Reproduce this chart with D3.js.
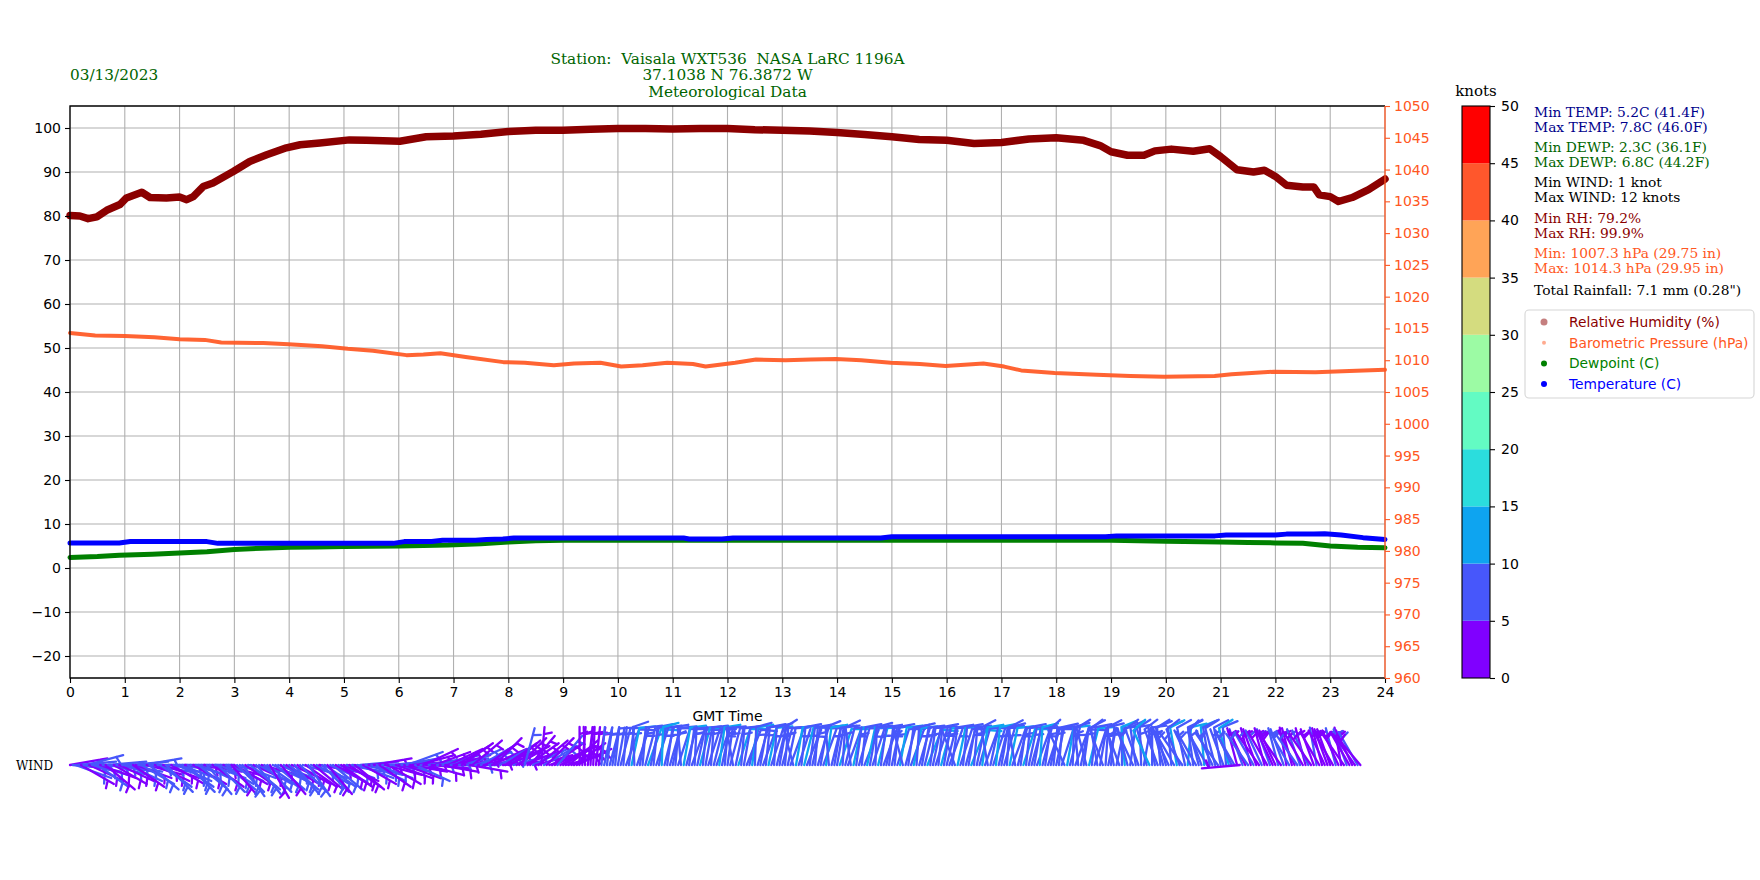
<!DOCTYPE html>
<html>
<head>
<meta charset="utf-8">
<script src="https://cdnjs.cloudflare.com/ajax/libs/d3/7.8.5/d3.min.js"></script>
<style>
  body { margin: 0; background: #ffffff; }
  text { font-family: "DejaVu Sans", sans-serif; }
  .serif { font-family: "DejaVu Serif", serif; white-space: pre; }
</style>
</head>
<body>
<div id="chart"></div>
<script>

// ---- data ----

var rhTime = [0, 0.18, 0.33, 0.49, 0.67, 0.91, 1.03, 1.31, 1.46, 1.76, 2.0, 2.13, 2.25, 2.43, 2.61, 2.98,
    3.28, 3.59, 3.95, 4.2, 4.56, 5.1, 5.41, 6.02, 6.5, 7.0, 7.5, 8.0, 8.5, 9.0, 9.5, 10.0, 10.5, 11.0,
    11.5, 12.0, 12.5, 13.0, 13.5, 14.0, 14.5, 15.0, 15.5, 16.0, 16.5, 17.0, 17.5, 18.0, 18.5, 18.8,
    19.0, 19.3, 19.6, 19.8, 20.1, 20.5, 20.8, 21.0, 21.3, 21.6, 21.8, 22.0, 22.2, 22.5, 22.7, 22.8,
    23.0, 23.15, 23.4, 23.7, 24.0];
var rhVal = [80.1, 80.0, 79.4, 79.8, 81.3, 82.6, 84.1, 85.4, 84.2, 84.1, 84.3, 83.7, 84.4, 86.7, 87.5, 90.1,
    92.4, 93.9, 95.5, 96.2, 96.6, 97.3, 97.2, 97.0, 98.0, 98.2, 98.6, 99.2, 99.5, 99.5, 99.7, 99.9, 99.9, 99.8,
    99.9, 99.9, 99.6, 99.5, 99.3, 99.0, 98.5, 98.0, 97.4, 97.2, 96.5, 96.7, 97.5, 97.8, 97.2, 96.0,
    94.6, 93.8, 93.8, 94.8, 95.2, 94.7, 95.3, 93.5, 90.5, 90.0, 90.4, 89.0, 87.0, 86.6, 86.6, 84.8,
    84.4, 83.3, 84.2, 86.0, 88.4];

var presTime = [0, 0.46, 1.0, 1.54, 2.0, 2.46, 2.76, 3.53, 3.99, 4.6, 5.07, 5.53, 6.14, 6.45, 6.76, 7.22,
    7.91, 8.3, 8.83, 9.2, 9.68, 10.06, 10.45, 10.9, 11.37, 11.6, 12.14, 12.52, 13.06, 13.52, 13.98,
    14.44, 14.98, 15.51, 15.98, 16.67, 17.05, 17.36, 17.97, 18.74, 19.35, 19.97, 20.89, 21.2, 21.97,
    22.73, 23.35, 24.0];
var presVal = [1014.3, 1013.9, 1013.8, 1013.6, 1013.3, 1013.2, 1012.8, 1012.7, 1012.5, 1012.2, 1011.8, 1011.5,
    1010.8, 1010.9, 1011.1, 1010.5, 1009.7, 1009.6, 1009.2, 1009.5, 1009.6, 1009.0, 1009.2, 1009.6, 1009.4,
    1009.0, 1009.6, 1010.1, 1010.0, 1010.1, 1010.2, 1010.0, 1009.6, 1009.4, 1009.1, 1009.5, 1009.0, 1008.4,
    1008.0, 1007.7, 1007.5, 1007.4, 1007.5, 1007.8, 1008.2, 1008.1, 1008.3, 1008.5];

var tempTime = [0, 0.9, 1.1, 2.5, 2.7, 5.9, 6.1, 6.6, 6.8, 7.4, 7.6, 7.9, 8.1, 11.2, 11.3, 11.9, 12.1,
    14.8, 15.0, 18.9, 19.1, 20.9, 21.1, 22.0, 22.2, 22.7, 22.9, 23.2, 23.6, 24.0];
var tempVal = [5.7, 5.7, 6.0, 6.0, 5.6, 5.6, 6.0, 6.0, 6.3, 6.3, 6.5, 6.6, 6.8, 6.8, 6.6, 6.6, 6.8,
    6.8, 7.1, 7.1, 7.3, 7.3, 7.5, 7.5, 7.7, 7.7, 7.8, 7.5, 6.9, 6.5];

var dewTime = [0, 0.5, 0.9, 1.5, 2.0, 2.5, 3.0, 3.5, 4.0, 4.5, 5.0, 6.0, 6.9, 7.5, 8.0, 8.5, 9.0, 12.0,
    15.0, 19.0, 20.0, 21.0, 21.5, 22.0, 22.5, 23.0, 23.5, 24.0];
var dewVal = [2.4, 2.6, 2.9, 3.1, 3.4, 3.7, 4.2, 4.5, 4.7, 4.8, 4.9, 5.0, 5.2, 5.5, 5.9, 6.2, 6.3, 6.3,
    6.3, 6.3, 6.1, 5.9, 5.8, 5.7, 5.6, 5.0, 4.7, 4.6];

// wind readings every 3 minutes, one row per hour (knots, degrees wind comes from)
var windStep = 3 / 60;
var windSpd = [
    [4, 6, 5, 7, 3, 6, 5, 4, 7, 6, 5, 3, 6, 4, 5, 7, 4, 6, 3, 5],
    [5, 7, 6, 4, 3, 6, 7, 5, 4, 6, 5, 3, 7, 6, 4, 5, 6, 3, 5, 7],
    [6, 5, 3, 7, 6, 4, 5, 7, 6, 3, 5, 6, 4, 7, 5, 6, 3, 5, 7, 4],
    [4, 6, 7, 5, 3, 6, 5, 4, 7, 6, 3, 5, 6, 4, 7, 5, 6, 3, 5, 4],
    [5, 3, 6, 4, 7, 5, 3, 6, 5, 4, 6, 3, 5, 7, 4, 6, 5, 3, 6, 4],
    [4, 6, 3, 5, 4, 7, 5, 3, 6, 4, 5, 3, 6, 4, 5, 3, 4, 6, 5, 3],
    [3, 5, 4, 6, 3, 4, 5, 3, 6, 4, 3, 5, 4, 3, 5, 4, 6, 3, 4, 5],
    [4, 3, 5, 3, 4, 6, 3, 4, 5, 3, 6, 4, 3, 5, 4, 3, 4, 5, 3, 4],
    [3, 4, 5, 3, 4, 3, 5, 4, 3, 5, 4, 3, 4, 5, 3, 4, 3, 4, 5, 3],
    [3, 4, 3, 4, 3, 4, 3, 4, 3, 3, 4, 3, 4, 3, 6, 7, 6, 8, 7, 6],
    [7, 8, 6, 9, 7, 10, 8, 6, 9, 7, 8, 11, 7, 9, 6, 8, 10, 7, 9, 8],
    [8, 6, 9, 7, 11, 8, 7, 9, 6, 8, 10, 7, 9, 8, 6, 9, 7, 10, 8, 6],
    [7, 9, 6, 8, 10, 7, 9, 8, 6, 11, 8, 7, 9, 6, 8, 10, 7, 9, 8, 7],
    [9, 7, 8, 6, 9, 11, 7, 8, 10, 6, 9, 8, 7, 9, 8, 6, 10, 8, 7, 9],
    [8, 10, 7, 9, 6, 8, 12, 7, 9, 8, 6, 10, 8, 7, 9, 11, 8, 6, 9, 7],
    [7, 9, 8, 11, 6, 8, 9, 7, 10, 8, 6, 9, 8, 10, 7, 9, 6, 8, 11, 7],
    [8, 6, 9, 7, 10, 8, 9, 6, 8, 11, 7, 9, 8, 10, 6, 8, 9, 7, 10, 8],
    [9, 7, 8, 10, 6, 8, 9, 7, 11, 8, 6, 9, 8, 7, 10, 9, 6, 8, 9, 7],
    [8, 9, 6, 8, 10, 7, 9, 8, 6, 9, 7, 8, 10, 8, 6, 9, 7, 8, 9, 6],
    [7, 9, 8, 6, 9, 10, 7, 8, 6, 9, 8, 7, 9, 8, 10, 7, 6, 9, 8, 7],
    [8, 6, 9, 7, 10, 8, 6, 9, 11, 7, 8, 6, 9, 7, 10, 8, 9, 7, 8, 6],
    [9, 7, 8, 10, 6, 5, 4, 3, 5, 3, 5, 4, 6, 4, 3, 5, 4, 3, 5, 4],
    [4, 5, 3, 6, 4, 5, 3, 4, 6, 5, 3, 4, 5, 3, 4, 5, 3, 4, 3, 4],
    [4, 3, 5, 4, 3, 4, 5, 3, 4, 3, 5, 3]
];
var windDir = [
    [80, 95, 110, 85, 120, 100, 75, 115, 105, 90, 125, 110, 95, 130, 85, 105, 120, 100, 115, 90],
    [100, 115, 85, 125, 110, 95, 120, 80, 105, 130, 100, 115, 90, 125, 110, 135, 95, 120, 105, 115],
    [110, 125, 95, 135, 105, 120, 90, 130, 115, 100, 140, 110, 125, 95, 135, 120, 105, 130, 115, 140],
    [120, 135, 110, 145, 125, 100, 130, 115, 140, 120, 105, 135, 125, 150, 115, 130, 110, 140, 125, 120],
    [130, 115, 140, 120, 135, 105, 125, 145, 110, 130, 120, 100, 135, 125, 140, 115, 130, 120, 110, 125],
    [115, 100, 125, 95, 130, 110, 85, 120, 105, 90, 115, 80, 110, 125, 95, 105, 120, 85, 100, 110],
    [95, 80, 110, 70, 100, 85, 115, 75, 90, 65, 105, 80, 95, 70, 85, 100, 75, 90, 65, 80],
    [75, 60, 90, 55, 80, 65, 100, 50, 70, 85, 60, 75, 55, 80, 65, 45, 70, 60, 85, 55],
    [65, 50, 75, 60, 45, 70, 15, 55, 40, 65, 75, 50, 5, 60, 45, 70, 55, 65, 40, 60],
    [60, 75, 50, 70, 55, 65, 0, 5, 358, 8, 3, 2, 6, 10, 5, 12, 8, 15, 10, 6],
    [10, 15, 5, 20, 8, 12, 358, 18, 10, 5, 15, 20, 12, 6, 18, 10, 2, 14, 8, 16],
    [12, 5, 18, 355, 10, 15, 8, 20, 3, 12, 15, 6, 10, 18, 4, 14, 20, 8, 12, 5],
    [8, 15, 350, 12, 18, 5, 10, 22, 14, 8, 2, 16, 10, 20, 6, 12, 18, 4, 14, 10],
    [15, 5, 12, 20, 345, 10, 18, 6, 14, 22, 8, 12, 4, 16, 10, 20, 8, 355, 14, 10],
    [10, 18, 4, 14, 20, 352, 12, 8, 16, 6, 22, 12, 10, 18, 2, 14, 8, 20, 12, 6],
    [12, 6, 18, 10, 345, 15, 8, 20, 12, 4, 16, 10, 14, 22, 8, 12, 18, 6, 15, 10],
    [14, 20, 8, 340, 12, 18, 6, 15, 10, 22, 5, 12, 16, 8, 20, 350, 12, 18, 6, 14],
    [10, 16, 4, 12, 20, 350, 14, 8, 18, 6, 12, 15, 10, 20, 4, 14, 8, 18, 12, 6],
    [12, 5, 18, 335, 10, 15, 2, 20, 355, 12, 8, 345, 14, 6, 18, 350, 10, 340, 4, 12],
    [5, 350, 12, 340, 0, 355, 345, 8, 335, 352, 340, 358, 10, 345, 335, 0, 350, 340, 355, 345],
    [345, 335, 355, 330, 350, 340, 325, 348, 5, 335, 352, 330, 345, 340, 355, 330, 350, 335, 345, 325],
    [350, 340, 355, 345, 335, 330, 345, 265, 340, 335, 325, 345, 330, 340, 325, 335, 345, 330, 340, 335],
    [335, 345, 325, 340, 350, 330, 345, 335, 325, 340, 330, 345, 335, 325, 340, 350, 330, 345, 335, 340],
    [340, 330, 345, 335, 350, 325, 340, 330, 335, 325, 330, 320]
];

var leftTicks = [-20, -10, 0, 10, 20, 30, 40, 50, 60, 70, 80, 90, 100];
var rightTicks = [960, 965, 970, 975, 980, 985, 990, 995, 1000, 1005, 1010, 1015, 1020, 1025, 1030,
    1035, 1040, 1045, 1050];
var hourTicks = [0, 1, 2, 3, 4, 5, 6, 7, 8, 9, 10, 11, 12, 13, 14, 15, 16, 17, 18, 19, 20, 21, 22, 23, 24];
var knotBounds = [0, 5, 10, 15, 20, 25, 30, 35, 40, 45, 50];
var knotColors = ['#8000ff', '#4757fb', '#0ea4f0', '#2bdddd', '#63fbc3', '#9cfba4', '#d4dc7f',
    '#ffa457', '#ff572c', '#ff0000'];

var titleLines = ['Station:  Vaisala WXT536  NASA LaRC 1196A', '37.1038 N 76.3872 W', 'Meteorological Data'];
var dateLabel = '03/13/2023';
var stats = [
    {text: 'Min TEMP: 5.2C (41.4F)', color: '#00008b'},
    {text: 'Max TEMP: 7.8C (46.0F)', color: '#00008b'},
    {text: 'Min DEWP: 2.3C (36.1F)', color: '#006400'},
    {text: 'Max DEWP: 6.8C (44.2F)', color: '#006400'},
    {text: 'Min WIND: 1 knot', color: '#000000'},
    {text: 'Max WIND: 12 knots', color: '#000000'},
    {text: 'Min RH: 79.2%', color: '#8b0000'},
    {text: 'Max RH: 99.9%', color: '#8b0000'},
    {text: 'Min: 1007.3 hPa (29.75 in)', color: '#ff5722'},
    {text: 'Max: 1014.3 hPa (29.95 in)', color: '#ff5722'},
    {text: 'Total Rainfall: 7.1 mm (0.28")', color: '#000000'}
];
var statsY = [117, 132, 152, 167, 187, 202, 223, 238, 258, 273, 295];
var legendItems = [
    {label: 'Relative Humidity (%)', color: '#8b0000', marker: 'rgba(139,0,0,0.5)', r: 3.5},
    {label: 'Barometric Pressure (hPa)', color: '#ff5722', marker: 'rgba(255,87,34,0.5)', r: 2},
    {label: 'Dewpoint (C)', color: '#008000', marker: '#008000', r: 3},
    {label: 'Temperature (C)', color: '#0000ff', marker: '#0000ff', r: 3}
];

// ---- layout ----
var width = 1760;
var height = 880;
var pLeft = 70, pRight = 1385, pTop = 106, pBottom = 678;
var windY = 765;
var barbLen = 38;
var pressColor = '#ff5722';
var gridColor = '#b0b0b0';

var svg = d3.select('#chart')
  .append('svg')
    .attr('width', width)
    .attr('height', height);

var x = d3.scaleLinear().domain([0, 24]).range([pLeft, pRight]);
var yL = d3.scaleLinear().domain([-25, 105]).range([pBottom, pTop]);
var yR = d3.scaleLinear().domain([960, 1050]).range([pBottom, pTop]);

// grid
svg.append('g')
    .selectAll('line.xg')
    .data(hourTicks)
  .enter()
    .append('line')
    .attr('x1', function(d) { return x(d); })
    .attr('x2', function(d) { return x(d); })
    .attr('y1', pTop)
    .attr('y2', pBottom)
    .attr('stroke', gridColor)
    .attr('stroke-width', 1.1);

svg.append('g')
    .selectAll('line.yg')
    .data(leftTicks)
  .enter()
    .append('line')
    .attr('x1', pLeft)
    .attr('x2', pRight)
    .attr('y1', function(d) { return yL(d); })
    .attr('y2', function(d) { return yL(d); })
    .attr('stroke', gridColor)
    .attr('stroke-width', 1.1);

// series
function drawSeries(times, vals, scale, color, w, op) {
    var pts = times.map(function(t, i) { return [t, vals[i]]; });
    var line = d3.line()
        .x(function(d) { return x(d[0]); })
        .y(function(d) { return scale(d[1]); });
    svg.append('path')
        .datum(pts)
        .attr('d', line)
        .attr('fill', 'none')
        .attr('stroke', color)
        .attr('stroke-width', w)
        .attr('stroke-linecap', 'round')
        .attr('stroke-linejoin', 'round')
        .attr('opacity', op);
}

drawSeries(rhTime, rhVal, yL, '#8b0000', 7.5, 1);
drawSeries(presTime, presVal, yR, pressColor, 4, 0.92);
drawSeries(dewTime, dewVal, yL, '#008000', 5, 1);
drawSeries(tempTime, tempVal, yL, '#0000ff', 5, 1);

// axes
var axL = svg.append('g')
    .attr('transform', 'translate(' + pLeft + ',0)')
    .call(d3.axisLeft(yL).tickValues(leftTicks).tickSize(5).tickPadding(4));
var axB = svg.append('g')
    .attr('transform', 'translate(0,' + pBottom + ')')
    .call(d3.axisBottom(x).tickValues(hourTicks).tickSize(5).tickPadding(4));
var axR = svg.append('g')
    .attr('transform', 'translate(' + pRight + ',0)')
    .call(d3.axisRight(yR).tickValues(rightTicks).tickFormat(d3.format('d')).tickSize(5).tickPadding(4));

[axL, axB, axR].forEach(function(a) {
    a.select('.domain').remove();
    a.selectAll('text')
        .attr('font-family', 'DejaVu Sans')
        .attr('font-size', '14px');
    a.selectAll('line').attr('stroke-width', 1.1);
});
axR.selectAll('text').attr('fill', pressColor);
axR.selectAll('line').attr('stroke', pressColor);

// spines
svg.append('path')
    .attr('d', 'M' + pRight + ',' + pTop + 'H' + pLeft + 'V' + pBottom + 'H' + pRight)
    .attr('fill', 'none')
    .attr('stroke', '#000')
    .attr('stroke-width', 1.3);
svg.append('line')
    .attr('x1', pRight).attr('x2', pRight)
    .attr('y1', pTop).attr('y2', pBottom)
    .attr('stroke', pressColor)
    .attr('stroke-width', 1.3);

svg.append('text')
    .text('GMT Time')
    .attr('x', (pLeft + pRight) / 2)
    .attr('y', 721)
    .attr('text-anchor', 'middle')
    .attr('font-size', '14px');

// titles
svg.append('g')
    .selectAll('text')
    .data(titleLines)
  .enter()
    .append('text')
    .attr('class', 'serif')
    .text(function(d) { return d; })
    .attr('x', (pLeft + pRight) / 2)
    .attr('y', function(d, i) { return 64 + i * 16.4; })
    .attr('text-anchor', 'middle')
    .attr('font-size', '15.3px')
    .attr('fill', '#006400');

svg.append('text')
    .attr('class', 'serif')
    .text(dateLabel)
    .attr('x', pLeft)
    .attr('y', 80)
    .attr('font-size', '15.3px')
    .attr('fill', '#006400');

// colorbar
var cbLeft = 1462, cbRight = 1490;
var yC = d3.scaleLinear().domain([0, 50]).range([pBottom, pTop]);
svg.append('g')
    .selectAll('rect')
    .data(knotColors)
  .enter()
    .append('rect')
    .attr('x', cbLeft)
    .attr('width', cbRight - cbLeft)
    .attr('y', function(d, i) { return yC(knotBounds[i + 1]); })
    .attr('height', function(d, i) { return yC(knotBounds[i]) - yC(knotBounds[i + 1]); })
    .attr('fill', function(d) { return d; });
svg.append('rect')
    .attr('x', cbLeft).attr('y', pTop)
    .attr('width', cbRight - cbLeft).attr('height', pBottom - pTop)
    .attr('fill', 'none')
    .attr('stroke', '#000')
    .attr('stroke-width', 1.1);
var axC = svg.append('g')
    .attr('transform', 'translate(' + cbRight + ',0)')
    .call(d3.axisRight(yC).tickValues(knotBounds).tickSize(5).tickPadding(6));
axC.select('.domain').remove();
axC.selectAll('text').attr('font-family', 'DejaVu Sans').attr('font-size', '14px');
axC.selectAll('line').attr('stroke-width', 1.1);

svg.append('text')
    .attr('class', 'serif')
    .text('knots')
    .attr('x', (cbLeft + cbRight) / 2)
    .attr('y', 96)
    .attr('text-anchor', 'middle')
    .attr('font-size', '15px');

// stats block
svg.append('g')
    .selectAll('text')
    .data(stats)
  .enter()
    .append('text')
    .attr('class', 'serif')
    .text(function(d) { return d.text; })
    .attr('x', 1534)
    .attr('y', function(d, i) { return statsY[i]; })
    .attr('font-size', '13.8px')
    .attr('fill', function(d) { return d.color; });

// legend
var lg = svg.append('g');
lg.append('rect')
    .attr('x', 1525).attr('y', 310)
    .attr('width', 229).attr('height', 88)
    .attr('rx', 4)
    .attr('fill', '#fff')
    .attr('stroke', '#d6d6d6')
    .attr('stroke-width', 1.1);
lg.selectAll('circle')
    .data(legendItems)
  .enter()
    .append('circle')
    .attr('cx', 1544)
    .attr('cy', function(d, i) { return 322 + i * 20.7; })
    .attr('r', function(d) { return d.r; })
    .attr('fill', function(d) { return d.marker; });
lg.selectAll('text')
    .data(legendItems)
  .enter()
    .append('text')
    .text(function(d) { return d.label; })
    .attr('x', 1569)
    .attr('y', function(d, i) { return 327 + i * 20.7; })
    .attr('font-size', '13.8px')
    .attr('fill', function(d) { return d.color; });

// wind barbs
svg.append('text')
    .attr('class', 'serif')
    .text('WIND')
    .attr('x', 16)
    .attr('y', windY + 4.5)
    .attr('font-size', '12px');

var windData = [];
windSpd.forEach(function(row, h) {
    row.forEach(function(s, k) {
        windData.push({t: h + k * windStep, spd: s, dir: windDir[h][k]});
    });
});

function barbColor(s) {
    var i = Math.min(Math.floor(s / 5), knotColors.length - 1);
    return knotColors[i];
}

function barbPath(d) {
    var bx = x(d.t), by = windY;
    var th = d.dir * Math.PI / 180;
    var sx = Math.sin(th), sy = -Math.cos(th);   // staff direction
    var px = Math.cos(th), py = Math.sin(th);    // barb side
    var L = barbLen;
    var spacing = 0.125 * L, fh = 0.4 * L, fw = 0.25 * L;
    var mag = 5 * Math.round(d.spd / 5);
    var nb = Math.floor(mag / 10);
    var half = (mag % 10) >= 5;
    var p = 'M' + bx + ',' + by + 'L' + (bx + L * sx) + ',' + (by + L * sy);
    var off = L;
    for(var j = 0; j < nb; j++) {
        var ax = bx + off * sx, ay = by + off * sy;
        p += 'M' + ax + ',' + ay + 'L' + (ax + fh * px + fw / 2 * sx) + ',' + (ay + fh * py + fw / 2 * sy);
        off -= spacing;
    }
    if(half) {
        if(nb == 0) off -= 1.5 * spacing;
        var hx = bx + off * sx, hy = by + off * sy;
        p += 'M' + hx + ',' + hy + 'L' + (hx + fh / 2 * px + fw / 4 * sx) + ',' + (hy + fh / 2 * py + fw / 4 * sy);
    }
    return p;
}

svg.append('g')
    .selectAll('path')
    .data(windData)
  .enter()
    .append('path')
    .attr('d', barbPath)
    .attr('fill', 'none')
    .attr('stroke', function(d) { return barbColor(d.spd); })
    .attr('stroke-width', 2.3)
    .attr('stroke-linecap', 'round');

</script>
</body>
</html>
